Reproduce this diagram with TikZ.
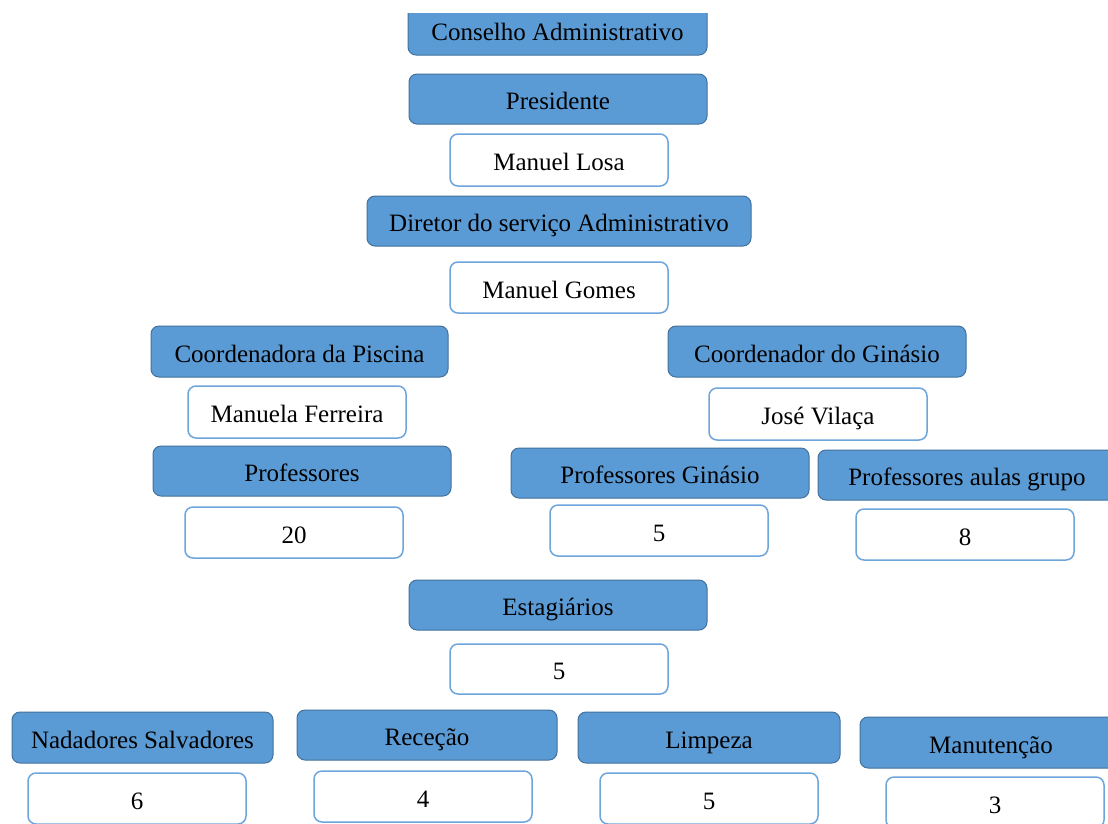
\documentclass[tikz,border=0pt]{standalone}
\usepackage{fontspec}
\setmainfont{Liberation Serif}
\definecolor{boxblue}{RGB}{91,155,213}
\definecolor{boxedge}{RGB}{65,113,156}
\definecolor{lightedge}{RGB}{110,165,220}
\tikzset{
  rolebox/.style={rectangle, rounded corners=8pt, fill=boxblue, draw=boxedge, line width=1pt,
    minimum height=50pt, inner sep=0pt, text height=23pt, text depth=2pt,
    font=\fontsize{25}{29}\selectfont},
  valbox/.style={rectangle, rounded corners=8pt, fill=white, draw=lightedge, line width=1.5pt,
    minimum width=218pt, minimum height=51pt, inner sep=0pt, text height=23pt, text depth=2pt,
    font=\fontsize{25}{29}\selectfont}
}
\begin{document}
\begin{tikzpicture}[x=1pt,y=-1pt]
\useasboundingbox[fill=white] (0,0) rectangle (1108,823);
\begin{scope}
\clip (0,13) rectangle (1108,823);
% blue role boxes
\node[rolebox, minimum width=299pt] (cons) at (557.5,30) {Conselho Administrativo};
\node[rolebox, minimum width=298pt] (pres) at (558,99) {Presidente};
\node[rolebox, minimum width=384pt] (dir) at (559,221) {Diretor do serviço Administrativo};
\node[rolebox, minimum width=297pt, minimum height=51pt] (coordP) at (299.5,351.5) {Coordenadora da Piscina};
\node[rolebox, minimum width=298pt, minimum height=51pt] (coordG) at (817,351.5) {Coordenador do Ginásio};
\node[rolebox, minimum width=298pt] (prof) at (302,471) {Professores};
\node[rolebox, minimum width=298pt] (profG) at (660,473) {Professores Ginásio};
\node[rolebox, minimum width=298pt] (profA) at (967,475) {Professores aulas grupo};
\node[rolebox, minimum width=298pt] (estag) at (558,605) {Estagiários};
\node[rolebox, minimum width=261pt, minimum height=51pt] (nad) at (142.5,737.5) {Nadadores Salvadores};
\node[rolebox, minimum width=260pt] (rec) at (427,735) {Receção};
\node[rolebox, minimum width=262pt, minimum height=51pt] (limp) at (709,737.5) {Limpeza};
\node[rolebox, minimum width=262pt, minimum height=51pt] (manut) at (991,742.5) {Manutenção};
% white value boxes
\node[valbox, minimum height=52pt] (losa) at (559,160) {Manuel Losa};
\node[valbox] (gomes) at (559,287.5) {Manuel Gomes};
\node[valbox, minimum height=52pt] (mf) at (297,412) {Manuela Ferreira};
\node[valbox, minimum height=52pt] (jv) at (818,414) {José Vilaça};
\node[valbox] (n20) at (294,532.5) {20};
\node[valbox] (n5g) at (659,530.5) {5};
\node[valbox] (n8) at (965,534.5) {8};
\node[valbox, minimum height=50pt] (n5e) at (559,669) {5};
\node[valbox] (n6) at (137,798.5) {6};
\node[valbox] (n4) at (423,796.5) {4};
\node[valbox] (n5l) at (709,798.5) {5};
\node[valbox] (n3) at (995,802.5) {3};
\end{scope}
\end{tikzpicture}
\end{document}
